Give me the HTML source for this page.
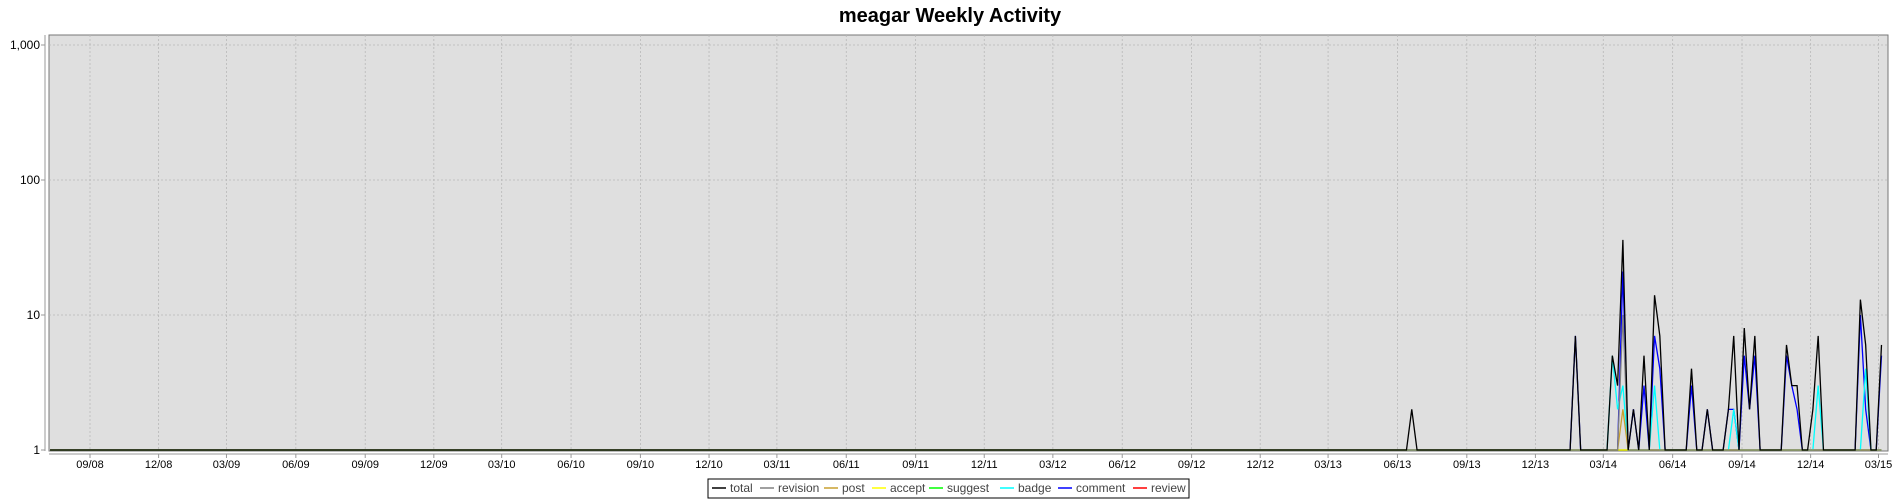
<!DOCTYPE html>
<html><head><meta charset="utf-8"><title>meagar Weekly Activity</title>
<style>
html,body{margin:0;padding:0;background:#fff;}
svg{display:block;font-family:"Liberation Sans",sans-serif;}
</style></head>
<body>
<svg id="chart" width="1900" height="500" viewBox="0 0 1900 500" xmlns="http://www.w3.org/2000/svg">
<text x="950" y="22" text-anchor="middle" font-size="20" font-weight="bold" fill="#000">meagar Weekly Activity</text>
<rect x="49" y="35" width="1839" height="416" fill="#dfdfdf" stroke="#777" stroke-width="1"/>
<g id="grid"></g>
<g id="xaxis"></g>
<g id="yaxis"></g>
<g id="series"></g>
<g id="legend">
<rect x="708" y="479" width="481" height="19" fill="#fff" stroke="#000" stroke-width="1"/>
</g>
</svg>
<script>
// ---- data ----
const activeWeeks = ["2013-06-20","2014-01-23","2014-03-13","2014-03-20","2014-03-27","2014-04-10","2014-04-24","2014-05-08","2014-05-15","2014-06-26","2014-07-17","2014-08-14","2014-08-21","2014-09-04","2014-09-11","2014-09-18","2014-10-30","2014-11-06","2014-11-13","2014-12-04","2014-12-11","2015-02-05","2015-02-12","2015-03-05"];
const totalVals    = [2,7,5,3,36,2,5,14,7,4,2,2,7,8,2,7,6,3,3,2,7,13,6,6];
const revisionVals = [0,0,0,0,10,0,0,0,0,0,0,0,0,0,0,0,0,0,0,0,0,0,0,0];
const postVals     = [0,0,0,0,2,0,0,0,0,0,0,0,0,0,0,0,0,0,0,0,0,0,0,0];
const acceptVals   = [0,0,0,0,0,0,0,0,0,0,0,0,0,0,0,0,0,0,0,0,0,0,0,0];
const suggestVals  = [0,0,0,0,0,0,0,0,0,0,0,0,0,0,0,0,0,0,0,0,0,0,0,0];
const badgeVals    = [0,0,5,2,3,0,0,3,0,0,0,0,2,0,0,0,0,0,0,0,3,0,4,0];
const commentVals  = [0,7,0,0,21,2,3,7,4,3,2,2,2,5,2,5,5,3,2,0,0,10,2,5];
const reviewVals   = [0,0,0,0,0,0,0,0,0,0,0,0,0,0,0,0,0,0,0,0,0,0,0,0];
const firstWeek = "2008-07-10";
const lastWeek  = "2015-03-05";
const xTickLabels = ["09/08","12/08","03/09","06/09","09/09","12/09","03/10","06/10","09/10","12/10","03/11","06/11","09/11","12/11","03/12","06/12","09/12","12/12","03/13","06/13","09/13","12/13","03/14","06/14","09/14","12/14","03/15"];
const yTickValues = [1,10,100,1000];
const yTickLabels = ["1","10","100","1,000"];
const seriesNames = ["total","revision","post","accept","suggest","badge","comment","review"];
const seriesColors = ["#000000","#808080","#c8a030","#ffff00","#00ff00","#00ffff","#0000ff","#ff0000"];
const seriesData = [totalVals,revisionVals,postVals,acceptVals,suggestVals,badgeVals,commentVals,reviewVals];

// ---- scales ----
const NS = "http://www.w3.org/2000/svg";
const DAY = 86400000;
const t0 = Date.UTC(2008,8,1);
function xScale(ms){ return 90 + (ms - t0)/DAY*0.754; }
function yScale(v){ return 450 - Math.log10(Math.max(v,1))*135; }
function parseD(s){ const p=s.split("-").map(Number); return Date.UTC(p[0],p[1]-1,p[2]); }
function el(tag, attrs, parent){ const e=document.createElementNS(NS,tag); for(const k in attrs) e.setAttribute(k,attrs[k]); parent.appendChild(e); return e; }

const grid=document.getElementById("grid"), xa=document.getElementById("xaxis"), ya=document.getElementById("yaxis");
el("line",{x1:49,y1:454,x2:1888,y2:454,stroke:"#999","stroke-width":1},xa);
el("line",{x1:45,y1:35,x2:45,y2:451,stroke:"#999","stroke-width":1},ya);
xTickLabels.forEach(function(lbl){
  const mm=+lbl.slice(0,2), yy=2000+ +lbl.slice(3);
  const x=xScale(Date.UTC(yy,mm-1,1));
  const g=el("line",{x1:x,y1:35,x2:x,y2:451,stroke:"#b8b8b8","stroke-width":0.8,"stroke-dasharray":"2,2"},grid);
  
  
  el("line",{x1:x,y1:454,x2:x,y2:458,stroke:"#999"},xa);
  const t=el("text",{x:x,y:468,"text-anchor":"middle","font-size":11,fill:"#000"},xa);
  t.textContent=lbl;
  
  
});
yTickValues.forEach(function(v,i){
  const y=yScale(v);
  if(v>1){
    const g=el("line",{x1:49,y1:y,x2:1888,y2:y,stroke:"#b8b8b8","stroke-width":0.8,"stroke-dasharray":"2,2"},grid);
    
    
  }
  el("line",{x1:41,y1:y,x2:45,y2:y,stroke:"#999"},ya);
  const t=el("text",{x:40,y:y+4,"text-anchor":"end","font-size":12,fill:"#000"},ya);
  t.textContent=yTickLabels[i];
  
  
});

// ---- series ----
const weekTimes=[];
for(let t=parseD(firstWeek); t<=parseD(lastWeek)+1; t+=7*DAY) weekTimes.push(t);
const activeT = activeWeeks.map(parseD);
const sg=document.getElementById("series");
for(let s=seriesNames.length-1; s>=0; s--){
  const vals=seriesData[s];
  const pts=weekTimes.map(function(t){
    let v=0;
    for(let j=0;j<activeT.length;j++){ if(Math.abs(activeT[j]-t)<DAY) { v=vals[j]; break; } }
    return xScale(t).toFixed(2)+","+yScale(v).toFixed(2);
  });
  const pl=el("polyline",{points:pts.join(" "),fill:"none",stroke:seriesColors[s],"stroke-width":1.3,"stroke-linejoin":"miter"},sg);
  
  
}

// ---- legend ----
const lg=document.getElementById("legend");
const legX=[712,760,824,872,929,1000,1058,1133];
seriesNames.forEach(function(n,i){
  const g=el("g",{},lg);
  
  
  el("line",{x1:legX[i],y1:488,x2:legX[i]+14,y2:488,stroke:seriesColors[i],"stroke-width":1.5},g);
  const t=el("text",{x:legX[i]+18,y:492,"font-size":12,fill:"#444"},g);
  t.textContent=n;
});
</script>
</body></html>
